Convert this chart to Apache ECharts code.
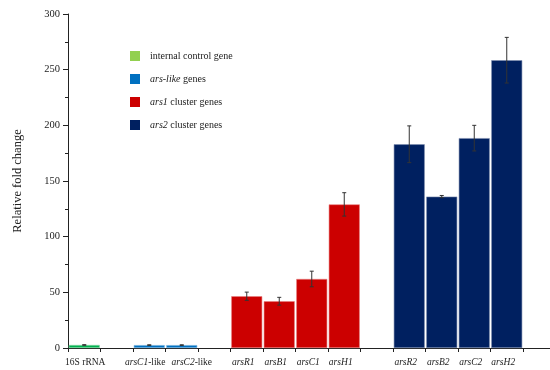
<!DOCTYPE html>
<html><head><meta charset="utf-8">
<script src="https://cdn.jsdelivr.net/npm/echarts@6/dist/echarts.min.js"></script>
<style>html,body{margin:0;padding:0;background:#fff}#c{width:550px;height:370px}</style>
</head><body><div id="c"></div>
<script>
const categories = ['16S rRNA', '', 'arsC1-like', 'arsC2-like', '', 'arsR1', 'arsB1', 'arsC1', 'arsH1', '', 'arsR2', 'arsB2', 'arsC2', 'arsH2', ''];
const values = [2.7, null, 2.6, 2.6, null, 46.5, 42, 62, 129, null, 183, 136, 188.5, 258.5, null];
const errors = [0.3, null, 0.3, 0.3, null, 3.7, 3.5, 7, 10.5, null, 16.5, 1, 11.5, 20.5, null];
const groups = [0, null, 1, 1, null, 2, 2, 2, 2, null, 3, 3, 3, 3, null];
const groupNames = ['internal control gene', 'ars-like genes', 'ars1 cluster genes', 'ars2 cluster genes'];
const groupColors = ['#00b050', '#0070c0', '#cc0000', '#002060'];
const groupBorders = ['#7fd7a0', '#7fb7e0', '#e88080', '#7f8fb0'];
const legendColors = ['#92d050', '#0070c0', '#cc0000', '#002060'];
const yTicks = [0, 50, 100, 150, 200, 250, 300];

const serif = '"Liberation Serif", "DejaVu Serif", serif';
// label padding (style only): [top, right, bottom, left]
const labelPad = {'16S rRNA': [0, 0, 0, 2], 'arsC1-like': [0, 8, 0, 0], 'arsC2-like': [0, 0, 0, 20]};
const defaultPad = [0, 7, 0, 0];

const chart = echarts.init(document.getElementById('c'), null, {renderer: 'canvas'});

const barSeries = groupNames.map((name, g) => ({
  name: name,
  type: 'bar',
  barWidth: 31,
  barGap: '-100%',
  itemStyle: {color: legendColors[g]},
  data: values.map((v, i) => groups[i] === g ? {value: v, itemStyle: {color: groupColors[g], borderColor: groupBorders[g], borderWidth: 0.6}} : '-'),
  z: 2
}));

const errData = [];
values.forEach((v, i) => { if (v != null) errData.push([i, v - errors[i], v + errors[i]]); });

function fmtX(s) {
  if (s === '') return s;
  const p = 'p' + categories.indexOf(s);
  if (s === '16S rRNA') return '{' + p + '|' + s + '}';
  if (s.endsWith('-like')) return '{' + p + 'i|' + s.slice(0, -5) + '}{' + p + 'r|-like}';
  return '{' + p + 'i|' + s + '}';
}
const xRich = {};
categories.forEach((s, i) => {
  const pad = labelPad[s] || defaultPad;
  const base = {fontFamily: serif, fontSize: 9.5, color: '#222'};
  if (s.endsWith('-like')) {
    xRich['p' + i + 'i'] = Object.assign({}, base, {fontStyle: 'italic', padding: [0, 0, 0, pad[3]]});
    xRich['p' + i + 'r'] = Object.assign({}, base, {padding: [0, pad[1], 0, 0]});
  } else {
    xRich['p' + i] = Object.assign({}, base, {padding: pad});
    xRich['p' + i + 'i'] = Object.assign({}, base, {fontStyle: 'italic', padding: pad});
  }
});
function fmtLegend(s) {
  if (s === 'ars-like genes') return '{i|ars-like} genes';
  const m = s.match(/^(ars\d) (.*)$/);
  if (m) return '{i|' + m[1] + '} ' + m[2];
  return s;
}

chart.setOption({
  animation: false,
  grid: {left: 68, width: 487.5, top: 14, bottom: 22, outerBoundsMode: 'none', containLabel: false},
  legend: {
    orient: 'vertical', left: 125, top: 46,
    itemWidth: 10, itemHeight: 10, itemGap: 13,
    icon: 'rect',
    data: groupNames,
    formatter: fmtLegend,
    textStyle: {fontFamily: serif, fontSize: 10, color: '#222', padding: [0, 0, 0, 5],
      rich: {i: {fontStyle: 'italic', fontFamily: serif, fontSize: 10, color: '#222'}}}
  },
  xAxis: {
    type: 'category', data: categories,
    axisLine: {lineStyle: {color: '#222', width: 1}},
    axisTick: {show: true, alignWithLabel: false, length: 4, lineStyle: {color: '#222'}, interval: 0},
    axisLabel: {interval: 0, margin: 9, formatter: fmtX, fontFamily: serif, fontSize: 9.5, color: '#222',
      hideOverlap: false, rich: xRich}
  },
  yAxis: {
    type: 'value', min: yTicks[0], max: yTicks[yTicks.length - 1], interval: yTicks[1] - yTicks[0],
    name: 'Relative fold change', nameLocation: 'middle', nameRotate: 90, nameGap: 44,
    nameTextStyle: {fontFamily: serif, fontSize: 12.5, color: '#222'},
    axisLine: {show: true, lineStyle: {color: '#222', width: 1}},
    axisTick: {show: true, length: 5, lineStyle: {color: '#222'}},
    minorTick: {show: true, splitNumber: 2, length: 3, lineStyle: {color: '#222'}},
    splitLine: {show: false},
    axisLabel: {margin: 8, fontFamily: serif, fontSize: 10.5, color: '#222'}
  },
  series: barSeries.concat([{
    type: 'custom',
    name: 'err',
    z: 5,
    data: errData,
    renderItem: function (params, api) {
      const x = api.value(0);
      const lo = api.coord([x, api.value(1)]);
      const hi = api.coord([x, api.value(2)]);
      const cw = 2;
      const st = {stroke: '#333', lineWidth: 1};
      return {type: 'group', children: [
        {type: 'line', shape: {x1: lo[0], y1: lo[1], x2: hi[0], y2: hi[1]}, style: st},
        {type: 'line', shape: {x1: lo[0] - cw, y1: lo[1], x2: lo[0] + cw, y2: lo[1]}, style: st},
        {type: 'line', shape: {x1: hi[0] - cw, y1: hi[1], x2: hi[0] + cw, y2: hi[1]}, style: st}
      ]};
    }
  }])
});
</script></body></html>
